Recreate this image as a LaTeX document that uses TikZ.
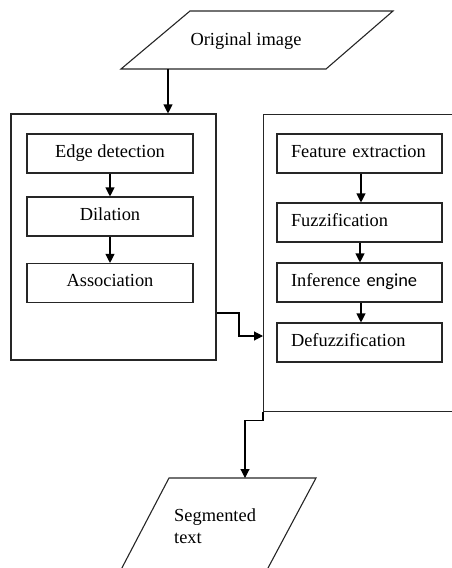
\documentclass[tikz,border=0pt]{standalone}
\usepackage{fontspec}
\setmainfont{Liberation Serif}
\newfontfamily\calib{Carlito}
\usetikzlibrary{arrows.meta,calc}
\begin{document}
\begin{tikzpicture}[x=1pt,y=-1pt,
  line/.style={draw=black!85, line width=1.1pt},
  arr/.style={draw=black, line width=1.1pt, -{Triangle[length=9pt,width=9pt]}},
  txt/.style={font=\fontsize{18.4}{22}\selectfont, inner sep=0pt},
  lbox/.style={line, minimum width=166pt, minimum height=39pt, inner sep=0pt,
    text height=12pt, text depth=5pt, font=\fontsize{18.4}{22}\selectfont},
  rbox/.style={line, minimum height=39pt, text width=137pt, inner xsep=14pt, inner ysep=0pt,
    align=left, text height=12pt, text depth=5pt, font=\fontsize{18.4}{22}\selectfont},
  container/.style={line, inner sep=0pt}]
\useasboundingbox (0,0) rectangle (451,568);

% input parallelogram
\coordinate (p1) at (190,11);
\coordinate (p2) at (393,11);
\coordinate (p3) at (326,69);
\coordinate (p4) at (121,69);
\draw[line] (p1) -- (p2) -- (p3) -- (p4) -- cycle;
\node[txt] (orig) at (246,41) {Original image};
\coordinate (o1) at (168,69);

% left container
\node[container, minimum width=205pt, minimum height=246pt] (L) at (113.5,237) {};
\node[lbox] (ed) at (110,153.5) {Edge detection};
\node[lbox] (dil) at (110,216.5) {Dilation};
\node[lbox] (as) at (110,283) {Association};

% right container (open to the right)
\node[container, minimum width=230pt, minimum height=297pt, anchor=north west] (R) at (263,114) {};
\node[rbox] (fe) at (359.5,153.5) {Feature extraction};
\node[rbox] (fz) at (359.5,222.5) {Fuzzification};
\node[rbox] (ie) at (359.5,282.5) {Inference {\calib engine}};
\node[rbox] (df) at (359.5,342.5) {Defuzzification};

% output parallelogram
\coordinate (q1) at (169,478);
\coordinate (q2) at (316,478);
\coordinate (q3) at (261.6,580);
\coordinate (q4) at (115.6,580);
\draw[line] (q4) -- (q1) -- (q2) -- (q3);
\node[txt, align=left, anchor=west] (seg) at (174,526) {Segmented\\text};
\coordinate (s1) at (245,478);

% connectors
\draw[arr] (o1) -- (o1 |- L.north);
\draw[arr] (ed) -- (dil);
\draw[arr] (dil) -- (as);
\draw[arr] ([xshift=1.5]fe.south) -- ([xshift=1.5]fz.north);
\draw[arr] ([xshift=0.5]fz.south) -- ([xshift=0.5]ie.north);
\draw[arr] ([xshift=1.5]ie.south) -- ([xshift=1.5]df.north);
\coordinate (j1) at (239,313);
\coordinate (j2) at (239,336);
\draw[arr] (j1 -| L.east) -- (j1) -- (j2) -- (j2 -| R.west);
\draw[arr] (R.south west) -- ++(0,8) -| (s1);
\end{tikzpicture}
\end{document}
